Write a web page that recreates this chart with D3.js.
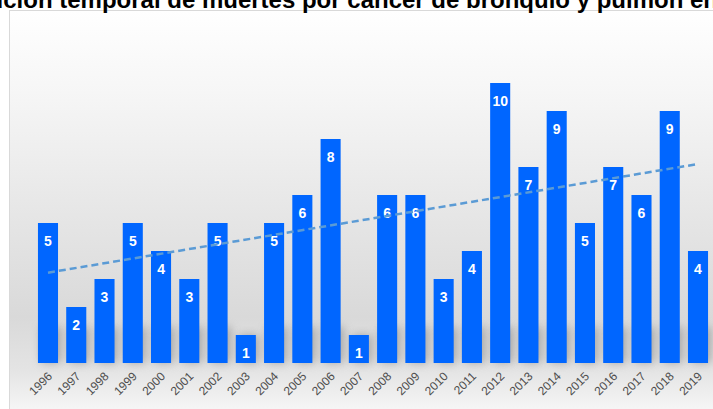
<!DOCTYPE html>
<html>
<head>
<meta charset="utf-8">
<script src="https://cdn.jsdelivr.net/npm/d3@7"></script>
<style>
  body { margin: 0; background: #fff; overflow: hidden; }
  svg { display: block; font-family: "Liberation Sans", Arial, sans-serif; }
</style>
</head>
<body>
<script>
// Data
const years = ["1996","1997","1998","1999","2000","2001","2002","2003","2004","2005","2006","2007",
               "2008","2009","2010","2011","2012","2013","2014","2015","2016","2017","2018","2019"];
const deaths = [5,2,3,5,4,3,5,1,5,6,8,1,6,6,3,4,10,7,9,5,7,6,9,4];
const title = "Evolución temporal de muertes por cáncer de bronquio y pulmón en";

var svgWidth = 713, svgHeight = 409;

const svg = d3.select("body").append("svg")
    .attr("width", svgWidth)
    .attr("height", svgHeight);

const defs = svg.append("defs");
const grad = defs.append("linearGradient")
    .attr("id", "bg").attr("x1", 0).attr("y1", 0).attr("x2", 0).attr("y2", 1);
[[0, "#ffffff"], [0.2, "#f6f6f6"], [0.5, "#e6e6e6"], [0.75, "#d9d9d9"], [0.88, "#e4e4e4"], [1, "#fafafa"]]
    .forEach(s => grad.append("stop").attr("offset", s[0]).attr("stop-color", s[1]));
defs.append("filter").attr("id", "blur")
    .attr("x", "-50%").attr("y", "-50%").attr("width", "200%").attr("height", "200%")
    .append("feGaussianBlur").attr("stdDeviation", 5);

// chart area background
svg.append("rect")
    .attr("x", 9.5).attr("y", 10.5)
    .attr("width", svgWidth).attr("height", svgHeight)
    .attr("fill", "url(#bg)")
    .attr("stroke", "#d9d9d9");

// title (cut off by the window, as in the original)
svg.append("text")
    .attr("x", 718).attr("y", 8)
    .attr("text-anchor", "end")
    .style("font-size", "24px")
    .style("font-weight", "bold")
    .attr("fill", "#000")
    .text(title);

// Scales
const baseline = 363;
var x = d3.scaleBand()
    .domain(years)
    .range([34, 712])
    .paddingInner(0.29)
    .paddingOuter(0.14);

var y = d3.scaleLinear()
    .domain([0, 10])
    .range([baseline, 83]);

const g = svg.append("g");

// soft shadows under the bars
g.selectAll(".shadow")
    .data(deaths)
    .enter().append("rect")
    .attr("class", "shadow")
    .attr("x", (d, i) => x(years[i]) + 3)
    .attr("y", d => Math.max(y(d), baseline - 36))
    .attr("width", x.bandwidth())
    .attr("height", d => baseline - Math.max(y(d), baseline - 36))
    .attr("fill", "#777")
    .attr("opacity", 0.55)
    .attr("filter", "url(#blur)");

// bars
g.selectAll(".bar")
    .data(deaths)
    .enter().append("rect")
    .attr("class", "bar")
    .attr("x", (d, i) => x(years[i]))
    .attr("y", d => y(d))
    .attr("width", x.bandwidth())
    .attr("height", d => baseline - y(d))
    .attr("fill", "#0066ff");

// value labels
g.selectAll(".label")
    .data(deaths)
    .enter().append("text")
    .attr("class", "label")
    .attr("x", (d, i) => x(years[i]) + x.bandwidth() / 2)
    .attr("y", d => y(d) + 23)
    .attr("text-anchor", "middle")
    .attr("fill", "#fff")
    .style("font-size", "14px")
    .style("font-weight", "bold")
    .text(d => d);

// linear trend line (least squares)
const n = deaths.length;
const xs = d3.range(1, n + 1);
const mx = d3.mean(xs), my = d3.mean(deaths);
const slope = d3.sum(xs, (v, i) => (v - mx) * (deaths[i] - my)) / d3.sum(xs, v => (v - mx) * (v - mx));
const intercept = my - slope * mx;
const trend = [0, n - 1].map(i => [x(years[i]) + x.bandwidth() / 2, y(intercept + slope * (i + 1))]);

g.append("path")
    .attr("d", d3.line()(trend))
    .attr("fill", "none")
    .attr("stroke", "#5b9bd5")
    .attr("stroke-width", 2.5)
    .attr("stroke-dasharray", "7,4");

// x axis labels
g.selectAll(".tick-label")
    .data(years)
    .enter().append("text")
    .attr("class", "tick-label")
    .attr("transform", d => "translate(" + (x(d) + x.bandwidth() / 2 + 5) + "," + (baseline + 14) + ") rotate(-45)")
    .attr("text-anchor", "end")
    .attr("fill", "#4d4d4d")
    .style("font-size", "12px")
    .text(d => d);
</script>
</body>
</html>
